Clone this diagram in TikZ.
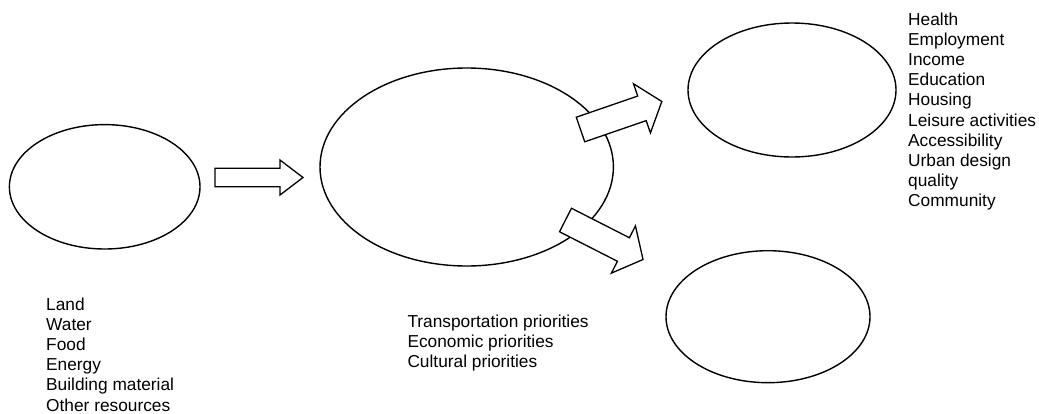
\documentclass[tikz,border=0pt]{standalone}
\usepackage{fontspec}
\setmainfont{Liberation Sans}
\usetikzlibrary{shapes.geometric}

\tikzset{
  oval/.style={draw, ellipse, line width=1.4pt, inner sep=0pt},
  blockarrow/.style={draw, fill=white, line width=1.3pt, line join=miter},
  % anchored at the baseline of the last line of the list
  listtext/.style={anchor=base west, align=left, inner sep=0pt,
    font=\fontsize{17.3}{20.2}\selectfont}
}

% block arrow: length, head base position, shaft half width, head half width
\newcommand{\blockarrowpath}[4]{%
  \draw[blockarrow] (0,-#3) -- (#2,-#3) -- (#2,-#4) -- (#1,0)
    -- (#2,#4) -- (#2,#3) -- (0,#3) -- cycle;}

\begin{document}
\begin{tikzpicture}[x=1pt, y=-1pt]
  \useasboundingbox (0,0) rectangle (1039,413);

  % the four ovals
  \node[oval, minimum width=190.6pt, minimum height=124.4pt] (resources) at (104.7,186.8) {};
  \node[oval, minimum width=293.4pt, minimum height=198pt] (city) at (466.7,167) {};
  \node[oval, minimum width=208pt, minimum height=134pt] (wellbeing) at (792,90) {};
  \node[oval, minimum width=204pt, minimum height=132pt] (impact) at (768,316.7) {};

  % block arrows between the ovals
  \begin{scope}[shift={(215,177.5)}]
    \blockarrowpath{88}{65}{9.2}{17.5}
  \end{scope}
  \begin{scope}[shift={(580.5,129.5)}, rotate=19]
    \blockarrowpath{86}{65}{13}{26}
  \end{scope}
  \begin{scope}[shift={(565.5,220)}, rotate=-27]
    \blockarrowpath{87}{65}{13.2}{26.5}
  \end{scope}

  % lists of factors
  \node[listtext] (reslist) at (46,411)
    {Land\\Water\\Food\\Energy\\Building material\\Other resources};
  \node[listtext] (prioritylist) at (407.3,367.4)
    {Transportation priorities\\Economic priorities\\Cultural priorities};
  \node[listtext] (qualitylist) at (908,206.8)
    {Health\\Employment\\Income\\Education\\Housing\\Leisure activities\\Accessibility\\Urban design\\quality\\Community};
\end{tikzpicture}
\end{document}
